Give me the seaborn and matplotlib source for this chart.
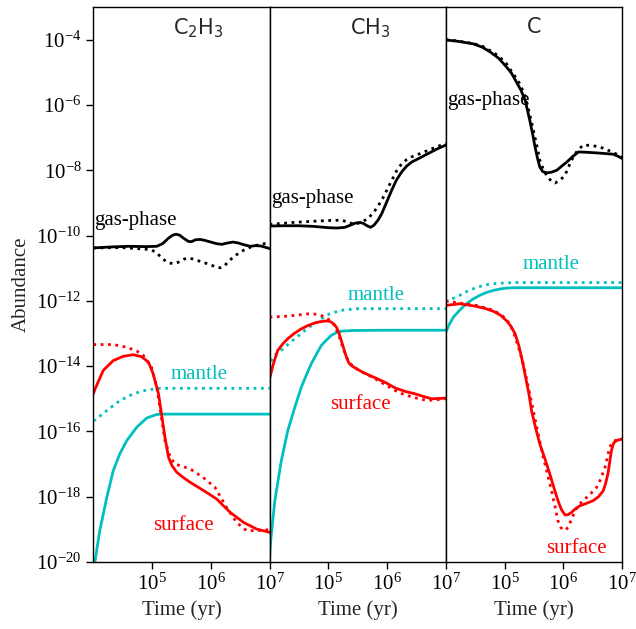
import numpy as np
import pandas as pd
import matplotlib
matplotlib.use("Agg")
import matplotlib.pyplot as plt
import matplotlib.ticker as mticker
import seaborn as sns

# ---------------- data (log10 time [yr], log10 abundance) ----------------
species = ["C_2H_3", "CH_3", "C"]

# C2H3
c2h3_gas_t = [4.0, 4.3, 4.6, 4.9, 5.08, 5.18, 5.28, 5.35, 5.41, 5.47, 5.55, 5.62, 5.67, 5.74, 5.82, 5.9, 6.0, 6.1, 6.19, 6.28, 6.38, 6.47, 6.56, 6.67, 6.76, 6.85, 6.93, 7.0]
c2h3_gas = [-10.38, -10.35, -10.33, -10.34, -10.33, -10.25, -10.08, -9.99, -9.96, -9.99, -10.1, -10.18, -10.19, -10.13, -10.12, -10.15, -10.2, -10.25, -10.27, -10.23, -10.2, -10.23, -10.28, -10.33, -10.31, -10.32, -10.36, -10.4]
c2h3_gas_d_t = [4.0, 4.5, 4.9, 5.0, 5.08, 5.16, 5.25, 5.32, 5.39, 5.47, 5.55, 5.62, 5.7, 5.8, 5.9, 6.0, 6.08, 6.16, 6.23, 6.3, 6.38, 6.47, 6.56, 6.67, 6.78, 6.87, 6.93, 7.0]
c2h3_gas_d = [-10.38, -10.37, -10.42, -10.45, -10.53, -10.68, -10.81, -10.85, -10.86, -10.8, -10.72, -10.69, -10.72, -10.78, -10.84, -10.9, -10.96, -10.99, -10.93, -10.8, -10.66, -10.55, -10.45, -10.36, -10.3, -10.26, -10.25, -10.27]
c2h3_surf_t = [4.0, 4.03, 4.17, 4.34, 4.51, 4.68, 4.82, 4.94, 5.02, 5.11, 5.16, 5.22, 5.28, 5.34, 5.42, 5.53, 5.65, 5.93, 6.1, 6.33, 6.56, 6.78, 7.0]
c2h3_surf = [-14.85, -14.7, -14.13, -13.83, -13.7, -13.65, -13.71, -13.88, -14.24, -14.85, -15.46, -16.18, -16.79, -17.05, -17.25, -17.41, -17.56, -17.87, -18.07, -18.48, -18.79, -18.99, -19.09]
c2h3_surf_d_t = [4.0, 4.34, 4.57, 4.74, 4.85, 4.99, 5.08, 5.16, 5.22, 5.31, 5.39, 5.48, 5.65, 5.87, 6.07, 6.27, 6.44, 6.61, 6.78, 7.0]
c2h3_surf_d = [-13.34, -13.34, -13.42, -13.54, -13.67, -14.03, -14.65, -15.57, -16.28, -16.79, -17.0, -17.05, -17.15, -17.41, -17.71, -18.33, -18.79, -19.04, -19.04, -19.01]
c2h3_mant_t = [4.0, 4.03, 4.11, 4.23, 4.34, 4.45, 4.57, 4.74, 4.91, 5.08, 5.22, 6.0, 7.0]
c2h3_mant = [-20.4, -19.96, -19.04, -18.02, -17.2, -16.69, -16.28, -15.87, -15.59, -15.48, -15.47, -15.47, -15.47]
c2h3_mant_d_t = [4.0, 4.03, 4.23, 4.45, 4.68, 4.91, 5.14, 6.0, 7.0]
c2h3_mant_d = [-15.67, -15.65, -15.36, -15.06, -14.85, -14.73, -14.68, -14.68, -14.68]

# CH3
ch3_gas_t = [4.0, 4.25, 4.49, 4.75, 5.0, 5.15, 5.28, 5.38, 5.46, 5.54, 5.6, 5.66, 5.72, 5.78, 5.85, 5.91, 6.0, 6.08, 6.16, 6.25, 6.33, 6.42, 6.55, 6.7, 6.85, 7.0]
ch3_gas = [-9.71, -9.70, -9.70, -9.72, -9.76, -9.77, -9.75, -9.68, -9.62, -9.6, -9.63, -9.7, -9.75, -9.68, -9.52, -9.33, -8.95, -8.61, -8.3, -8.05, -7.88, -7.75, -7.63, -7.49, -7.35, -7.23]
ch3_gas_d_t = [4.0, 4.4, 4.77, 5.0, 5.23, 5.35, 5.45, 5.55, 5.68, 5.8, 5.91, 6.0, 6.08, 6.16, 6.25, 6.33, 6.42, 6.55, 6.7, 6.85, 7.0]
ch3_gas_d = [-9.66, -9.6, -9.56, -9.54, -9.53, -9.6, -9.66, -9.6, -9.48, -9.22, -8.92, -8.6, -8.31, -8.03, -7.8, -7.68, -7.59, -7.5, -7.39, -7.28, -7.18]
ch3_surf_t = [4.0, 4.07, 4.14, 4.22, 4.31, 4.42, 4.54, 4.65, 4.77, 4.86, 4.94, 5.0, 5.05, 5.1, 5.14, 5.18, 5.22, 5.27, 5.31, 5.35, 5.39, 5.48, 5.6, 5.8, 5.97, 6.14, 6.3, 6.48, 6.62, 6.76, 6.88, 7.0]
ch3_surf = [-14.39, -13.9, -13.52, -13.33, -13.16, -13.0, -12.86, -12.76, -12.68, -12.64, -12.62, -12.62, -12.65, -12.73, -12.81, -12.98, -13.21, -13.5, -13.73, -13.9, -13.98, -14.08, -14.2, -14.36, -14.5, -14.67, -14.77, -14.85, -14.93, -15.0, -14.99, -14.98]
ch3_surf_d_t = [4.0, 4.31, 4.65, 4.8, 4.88, 4.99, 5.05, 5.11, 5.19, 5.25, 5.31, 5.38, 5.45, 5.6, 5.8, 5.97, 6.14, 6.3, 6.48, 6.6, 6.7, 6.85, 7.0]
ch3_surf_d = [-12.5, -12.47, -12.4, -12.41, -12.45, -12.55, -12.63, -12.75, -13.11, -13.45, -13.73, -13.93, -14.05, -14.2, -14.39, -14.57, -14.75, -14.88, -14.97, -15.02, -15.05, -15.03, -15.0]
ch3_mant_t = [4.0, 4.02, 4.09, 4.2, 4.31, 4.43, 4.54, 4.62, 4.71, 4.8, 4.88, 4.97, 5.05, 5.14, 5.22, 5.39, 6.0, 7.0]
ch3_mant = [-19.9, -19.35, -18.12, -16.9, -15.98, -15.26, -14.65, -14.3, -13.93, -13.63, -13.37, -13.2, -13.06, -12.97, -12.93, -12.91, -12.9, -12.9]
ch3_mant_d_t = [4.0, 4.03, 4.1, 4.18, 4.26, 4.35, 4.43, 4.52, 4.6, 4.68, 4.77, 4.86, 4.94, 5.02, 5.11, 5.22, 5.34, 5.51, 7.0]
ch3_mant_d = [-14.3, -13.83, -13.65, -13.55, -13.42, -13.28, -13.16, -13.03, -12.91, -12.8, -12.7, -12.58, -12.48, -12.4, -12.35, -12.29, -12.27, -12.24, -12.24]

# C
c_gas_t = [4.0, 4.2, 4.47, 4.62, 4.75, 4.9, 5.03, 5.12, 5.2, 5.28, 5.35, 5.43, 5.48, 5.52, 5.56, 5.6, 5.65, 5.72, 5.8, 5.89, 5.97, 6.06, 6.16, 6.26, 6.4, 6.57, 6.72, 6.85, 6.93, 7.0]
c_gas = [-4.01, -4.05, -4.13, -4.23, -4.37, -4.57, -4.83, -5.03, -5.29, -5.55, -5.85, -6.47, -6.9, -7.29, -7.62, -7.9, -8.04, -8.08, -8.06, -8.0, -7.88, -7.75, -7.58, -7.44, -7.45, -7.47, -7.49, -7.51, -7.57, -7.64]
c_gas_d_t = [4.0, 4.2, 4.47, 4.62, 4.75, 4.9, 5.03, 5.14, 5.26, 5.32, 5.37, 5.43, 5.49, 5.55, 5.6, 5.67, 5.74, 5.8, 5.86, 5.95, 6.03, 6.09, 6.14, 6.24, 6.34, 6.48, 6.62, 6.72, 6.79, 6.9, 7.0]
c_gas_d = [-4.0, -4.04, -4.12, -4.2, -4.33, -4.5, -4.73, -5.03, -5.35, -5.6, -5.85, -6.3, -6.77, -7.25, -7.69, -8.02, -8.22, -8.34, -8.39, -8.3, -8.15, -7.9, -7.69, -7.4, -7.23, -7.24, -7.29, -7.35, -7.41, -7.5, -7.59]
c_surf_t = [4.0, 4.24, 4.52, 4.68, 4.81, 4.93, 5.03, 5.11, 5.18, 5.24, 5.29, 5.33, 5.37, 5.42, 5.46, 5.53, 5.6, 5.69, 5.77, 5.84, 5.91, 5.97, 6.03, 6.08, 6.14, 6.2, 6.28, 6.4, 6.51, 6.6, 6.68, 6.72, 6.76, 6.79, 6.82, 6.86, 6.91, 7.0]
c_surf = [-12.14, -12.09, -12.17, -12.24, -12.32, -12.44, -12.6, -12.78, -13.01, -13.35, -13.73, -14.08, -14.44, -14.9, -15.36, -15.9, -16.38, -16.85, -17.3, -17.72, -18.12, -18.4, -18.56, -18.55, -18.48, -18.38, -18.28, -18.2, -18.12, -18.0, -17.82, -17.6, -17.3, -16.95, -16.58, -16.35, -16.28, -16.23]
c_surf_d_t = [4.0, 4.24, 4.52, 4.81, 4.96, 5.09, 5.17, 5.25, 5.32, 5.4, 5.49, 5.57, 5.66, 5.73, 5.8, 5.86, 5.91, 5.96, 6.0, 6.04, 6.08, 6.14, 6.2, 6.28, 6.37, 6.47, 6.57, 6.64, 6.71, 6.75, 6.79, 6.84, 6.88, 7.0]
c_surf_d = [-12.0, -12.07, -12.14, -12.29, -12.45, -12.7, -13.05, -13.5, -13.93, -14.6, -15.36, -16.05, -16.79, -17.3, -17.82, -18.3, -18.74, -18.95, -19.02, -19.02, -18.94, -18.7, -18.43, -18.22, -18.07, -17.9, -17.71, -17.45, -17.1, -16.8, -16.48, -16.33, -16.28, -16.25]
c_mant_t = [4.0, 4.06, 4.13, 4.24, 4.35, 4.46, 4.58, 4.7, 4.81, 4.92, 5.03, 5.15, 5.3, 7.0]
c_mant = [-12.96, -12.72, -12.5, -12.28, -12.09, -11.95, -11.83, -11.74, -11.68, -11.64, -11.61, -11.6, -11.6, -11.6]
c_mant_d_t = [4.0, 4.12, 4.24, 4.35, 4.47, 4.58, 4.69, 4.8, 4.92, 5.05, 5.2, 7.0]
c_mant_d = [-12.04, -11.93, -11.83, -11.72, -11.63, -11.56, -11.51, -11.48, -11.46, -11.45, -11.44, -11.44]

panels = [
    dict(gas=(c2h3_gas_t, c2h3_gas), gas_d=(c2h3_gas_d_t, c2h3_gas_d),
         surf=(c2h3_surf_t, c2h3_surf), surf_d=(c2h3_surf_d_t, c2h3_surf_d),
         mant=(c2h3_mant_t, c2h3_mant), mant_d=(c2h3_mant_d_t, c2h3_mant_d),
         lab_gas=(4.02, -9.69, "left"), lab_mant=(5.8, -14.39, "center"), lab_surf=(5.53, -19.02, "center")),
    dict(gas=(ch3_gas_t, ch3_gas), gas_d=(ch3_gas_d_t, ch3_gas_d),
         surf=(ch3_surf_t, ch3_surf), surf_d=(ch3_surf_d_t, ch3_surf_d),
         mant=(ch3_mant_t, ch3_mant), mant_d=(ch3_mant_d_t, ch3_mant_d),
         lab_gas=(4.02, -9.0, "left"), lab_mant=(5.81, -11.99, "center"), lab_surf=(5.54, -15.31, "center")),
    dict(gas=(c_gas_t, c_gas), gas_d=(c_gas_d_t, c_gas_d),
         surf=(c_surf_t, c_surf), surf_d=(c_surf_d_t, c_surf_d),
         mant=(c_mant_t, c_mant), mant_d=(c_mant_d_t, c_mant_d),
         lab_gas=(4.02, -6.0, "left"), lab_mant=(5.80, -11.02, "center"), lab_surf=(6.23, -19.71, "center")),
]

# ---------------- style ----------------
sns.set_style("ticks")
plt.rcParams["font.family"] = ["Liberation Serif", "DejaVu Serif"]
plt.rcParams["mathtext.fontset"] = "custom"
plt.rcParams["mathtext.rm"] = "Liberation Serif"
plt.rcParams["mathtext.it"] = "Liberation Serif:italic"
plt.rcParams["mathtext.bf"] = "Liberation Serif:bold"
plt.rcParams["mathtext.sf"] = "DejaVu Sans"
plt.rcParams["font.size"] = 15
plt.rcParams["axes.linewidth"] = 1.0
plt.rcParams["xtick.major.size"] = 5
plt.rcParams["ytick.major.size"] = 5
plt.rcParams["xtick.major.width"] = 1.0
plt.rcParams["ytick.major.width"] = 1.0
plt.rcParams["xtick.color"] = "black"
plt.rcParams["ytick.color"] = "black"

RED = "#ff0000"
CYAN = "#00bfbf"
BLACK = "#000000"

fig, axes = plt.subplots(1, 3, figsize=(6.36, 6.29), dpi=100, sharey=True)
fig.subplots_adjust(left=0.1467, right=0.978, bottom=0.1065, top=0.9889, wspace=0)

for i, (ax, p, name) in enumerate(zip(axes, panels, species)):
    ax.set_xscale("log")
    ax.set_yscale("log")
    for key, color, ls in [("gas", BLACK, "-"), ("gas_d", BLACK, ":"),
                           ("mant", CYAN, "-"), ("mant_d", CYAN, ":"),
                           ("surf", RED, "-"), ("surf_d", RED, ":")]:
        t, v = p[key]
        df = pd.DataFrame({"t": 10.0 ** np.array(t), "v": 10.0 ** np.array(v)})
        sns.lineplot(data=df, x="t", y="v", ax=ax, color=color, linestyle=ls,
                     linewidth=2.0, sort=False, estimator=None, legend=False)
    ax.set_xlim(1e4, 1e7)
    ax.set_ylim(1e-20, 1e-3)
    ax.xaxis.set_major_locator(mticker.FixedLocator([1e5, 1e6, 1e7]))
    ax.xaxis.set_minor_locator(mticker.NullLocator())
    ax.xaxis.set_major_formatter(mticker.LogFormatterMathtext())
    ax.yaxis.set_major_locator(mticker.FixedLocator([10.0 ** k for k in range(-20, -3, 2)]))
    ax.yaxis.set_minor_locator(mticker.NullLocator())
    ax.yaxis.set_major_formatter(mticker.LogFormatterMathtext())
    ax.set_xlabel("Time (yr)", fontsize=15)
    ax.set_ylabel("Abundance" if i == 0 else "", fontsize=15)
    ax.tick_params(axis="both", labelsize=15, direction="out")
    if i > 0:
        ax.tick_params(axis="y", left=False)
    for s in ax.spines.values():
        s.set_visible(True)
        s.set_color("black")
    ax.text(0.455, 0.962, r"$\mathsf{" + name + "}$", transform=ax.transAxes,
            ha="left", va="center", fontsize=15)
    gx, gy, gha = p["lab_gas"]
    ax.text(10 ** gx, 10 ** gy, "gas-phase", color="black", ha=gha, va="baseline", fontsize=15)
    mx, my, mha = p["lab_mant"]
    ax.text(10 ** mx, 10 ** my, "mantle", color=CYAN, ha=mha, va="baseline", fontsize=15)
    sx, sy, sha = p["lab_surf"]
    ax.text(10 ** sx, 10 ** sy, "surface", color=RED, ha=sha, va="baseline", fontsize=15)

fig.savefig("out.png", dpi=100)
